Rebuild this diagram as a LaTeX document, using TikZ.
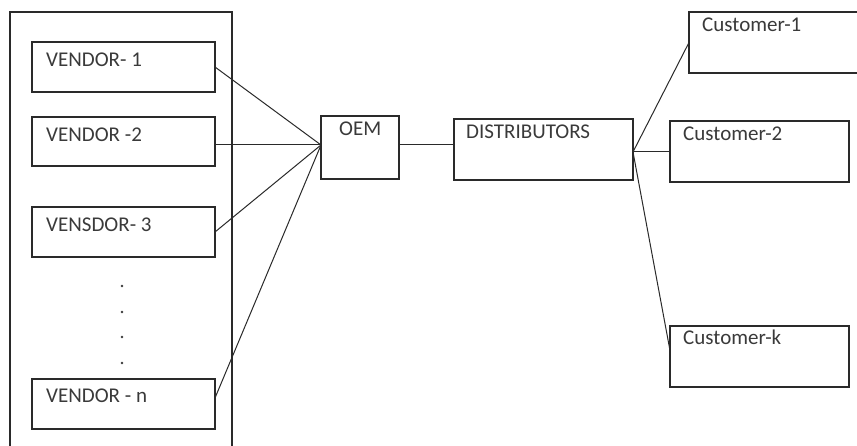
\documentclass[tikz,border=0pt]{standalone}
\usepackage{fontspec}
\usetikzlibrary{calc}
\setmainfont{Carlito}
\definecolor{edge}{HTML}{2A2A2A}
\definecolor{ink}{HTML}{3A3A3A}
\begin{document}
\begin{tikzpicture}[x=1pt,y=1pt,
  box/.style={draw=edge,line width=1.2pt,rectangle,inner sep=0pt,outer sep=0pt},
  lbl/.style={text=ink,anchor=base west,inner sep=0pt,font=\fontsize{21}{25}\selectfont},
  link/.style={draw=edge,line width=1pt}]
\useasboundingbox (0,0) rectangle (857,446);
\clip (0,0) rectangle (857,446);
\fill[white] (0,0) rectangle (857,446);

% vendor group frame (runs past the bottom edge)
\node[box,minimum width=222,minimum height=460] (group) at (121,204) {};

% vendors
\node[box,minimum width=183,minimum height=50] (v1) at (123.5,379) {};
\node[box,minimum width=183,minimum height=49] (v2) at (123.5,304.5) {};
\node[box,minimum width=183,minimum height=50] (v3) at (123.5,214) {};
\node[box,minimum width=183,minimum height=50] (vn) at (123.5,42) {};
\node[lbl] (t1) at (46,379) {VENDOR- 1};
\node[lbl] (t2) at (46,304) {VENDOR -2};
\node[lbl] (t3) at (46,214) {VENSDOR- 3};
\node[lbl] (tn) at (46,43) {VENDOR - n};

% ellipsis dots
\foreach \yy in {160,134,109,83} \fill[ink] (122,\yy) circle (1.3);

% OEM and distributors
\node[box,minimum width=78,minimum height=63] (oem) at (360,298.5) {};
\node[box,minimum width=179,minimum height=61] (dist) at (543.5,296.5) {};
\node[lbl] (toem) at (339,310) {OEM};
\node[lbl] (tdist) at (466,307) {DISTRIBUTORS};

% customers
\node[box,minimum width=181,minimum height=61] (c1) at (779.5,403.5) {};
\node[box,minimum width=179,minimum height=61] (c2) at (759.5,294.5) {};
\node[box,minimum width=179,minimum height=61] (ck) at (759.5,89.5) {};
\node[lbl] (tc1) at (702,414) {Customer-1};
\node[lbl] (tc2) at (683,305) {Customer-2};
\node[lbl] (tck) at (683,101) {Customer-k};

% junction points
\coordinate (hub) at ($(oem.west)+(0,2.5)$);
\coordinate (dhub) at ($(dist.east)+(0,-2.5)$);
\coordinate (vnend) at ($(vn.east)+(0,6)$);
\coordinate (ckend) at ($(ck.west)+(0,6)$);

% connectors
\draw[link] (v1.east) -- (hub);
\draw[link] (v2.east |- hub) -- (hub);
\draw[link] (v3.east) -- (hub);
\draw[link] (vnend) -- (hub);
\draw[link] (oem.east |- hub) -- (dist.west |- hub);
\draw[link] (dhub) -- (c1.west);
\draw[link] (dhub) -- (c2.west |- dhub);
\draw[link] (dhub) -- (ckend);
\end{tikzpicture}
\end{document}
